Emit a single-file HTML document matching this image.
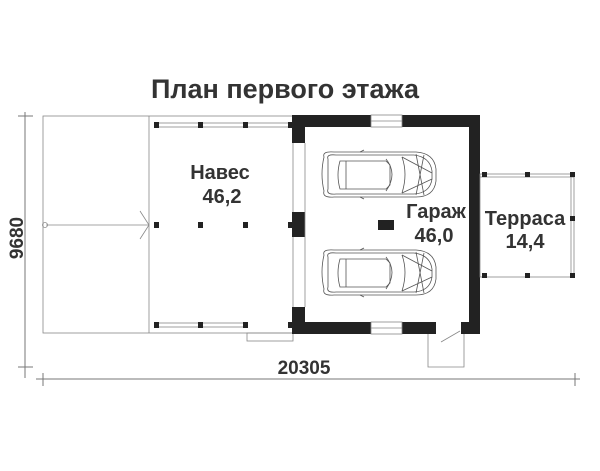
<!DOCTYPE html>
<html><head><meta charset="utf-8"><style>
html,body{margin:0;padding:0;background:#fff;width:600px;height:471px;overflow:hidden}
svg{display:block}
text{font-family:"Liberation Sans",Arial,sans-serif;font-weight:bold;fill:#333}
</style></head><body>
<svg width="600" height="471" viewBox="0 0 600 471" xmlns="http://www.w3.org/2000/svg">
<defs>
<g id="car" fill="none" stroke="#555" stroke-width="0.8">
  <path d="M4 6 Q2 0 14 1 L96 1 Q114 2 116 18 L116 30 Q114 46 96 46 L14 46 Q2 47 4 40 Q0 23 4 6Z"/>
  <path d="M8 8 Q6 3 16 4 L94 4 Q110 6 112 20 L112 28 Q110 42 94 43 L16 43 Q6 44 8 38Z"/>
  <path d="M20 10 L66 10 L70 14 L70 34 L66 38 L20 38 Q16 24 20 10Z"/>
  <path d="M66 8 Q78 23 66 40"/>
  <path d="M82 6 Q88 23 82 42"/>
  <path d="M82 6 L112 22 M82 42 L112 28 M96 3 L104 44 M96 44 L104 4"/>
  <line x1="26" y1="10" x2="26" y2="38"/>
  <line x1="40" y1="1" x2="44" y2="-1"/><line x1="40" y1="46" x2="44" y2="48"/>
</g>
</defs>
<text x="285" y="98" font-size="27" text-anchor="middle">План первого этажа</text>

<g stroke="#777" stroke-width="1" fill="none">
<line x1="25" y1="112" x2="25" y2="378"/>
<line x1="18" y1="116" x2="33" y2="116"/>
<line x1="18" y1="367" x2="33" y2="367"/>
<line x1="36" y1="379" x2="580" y2="379"/>
<line x1="43" y1="373" x2="43" y2="386"/>
<line x1="575" y1="373" x2="575" y2="386"/>
</g>
<text x="304" y="374" font-size="19" text-anchor="middle">20305</text>
<text x="0" y="0" font-size="19" text-anchor="middle" transform="translate(23,238) rotate(-90)">9680</text>

<g stroke="#888" stroke-width="0.8" fill="none">
<rect x="43" y="116" width="250" height="217"/>
<line x1="149" y1="116" x2="149" y2="333"/>
<line x1="46" y1="225" x2="149" y2="225"/>
<circle cx="45" cy="225" r="2.5"/>
<path d="M140 211 L149 225 L140 239"/>
<rect x="156" y="123" width="135" height="4"/>
<rect x="156" y="323" width="89" height="4"/>
<rect x="247" y="333" width="46" height="8"/>
</g>
<g fill="#222">
<rect x="154" y="122" width="5" height="6"/><rect x="198" y="122" width="5" height="6"/><rect x="243" y="122" width="5" height="6"/><rect x="288" y="122" width="5" height="6"/>
<rect x="154" y="222" width="5" height="6"/><rect x="198" y="222" width="5" height="6"/><rect x="243" y="222" width="5" height="6"/><rect x="288" y="222" width="5" height="6"/>
<rect x="154" y="322" width="5" height="6"/><rect x="198" y="322" width="5" height="6"/><rect x="243" y="322" width="5" height="6"/><rect x="288" y="322" width="5" height="6"/>
</g>
<text x="220" y="179" font-size="20" text-anchor="middle">Навес</text>
<text x="222" y="203" font-size="20" text-anchor="middle">46,2</text>

<g fill="#222">
<rect x="292" y="115" width="79" height="12"/>
<rect x="402" y="115" width="78" height="12"/>
<rect x="469" y="115" width="11" height="219"/>
<rect x="292" y="115" width="13" height="28"/>
<rect x="292" y="212" width="13" height="25"/>
<rect x="292" y="307" width="13" height="27"/>
<rect x="292" y="322" width="79" height="12"/>
<rect x="402" y="322" width="34" height="12"/>
<rect x="461" y="322" width="19" height="12"/>
<rect x="378" y="220" width="16" height="10"/>
</g>
<g stroke="#888" stroke-width="0.8" fill="none">
<line x1="305" y1="143" x2="305" y2="307"/>
<rect x="371" y="115" width="31" height="12"/>
<line x1="371" y1="121" x2="402" y2="121"/>
<rect x="371" y="322" width="31" height="12"/>
<line x1="371" y1="328" x2="402" y2="328"/>
<path d="M428 334 L428 367 L464 367 L464 334"/>
<line x1="441" y1="342" x2="460" y2="331"/>
<rect x="480" y="174" width="94" height="103"/>
<line x1="480" y1="177" x2="574" y2="177"/>
<line x1="571" y1="174" x2="571" y2="277"/>
</g>
<g fill="#222">
<rect x="482" y="172" width="5" height="5"/><rect x="525" y="172" width="5" height="5"/><rect x="570" y="172" width="5" height="5"/>
<rect x="570" y="216" width="5" height="5"/>
<rect x="482" y="273" width="5" height="5"/><rect x="525" y="273" width="5" height="5"/><rect x="570" y="273" width="5" height="5"/>
</g>
<use href="#car" x="320" y="151"/>
<use href="#car" x="320" y="249"/>
<text x="436" y="218" font-size="20" text-anchor="middle">Гараж</text>
<text x="434" y="242" font-size="20" text-anchor="middle">46,0</text>
<text x="525" y="225" font-size="20" text-anchor="middle">Терраса</text>
<text x="525" y="248" font-size="20" text-anchor="middle">14,4</text>
</svg>
</body></html>
